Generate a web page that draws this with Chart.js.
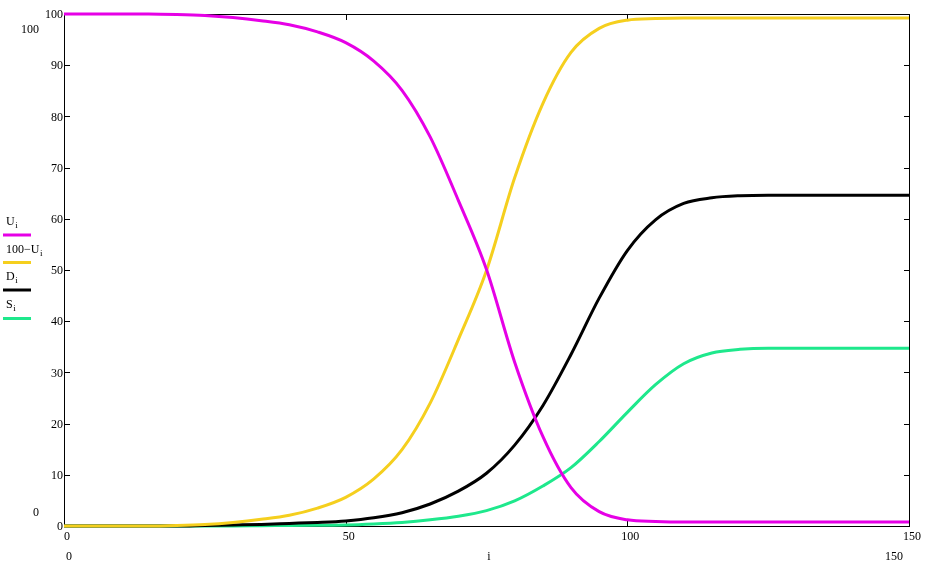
<!DOCTYPE html>
<html>
<head>
<meta charset="utf-8">
<script src="https://cdn.jsdelivr.net/npm/chart.js@4.4.1/dist/chart.umd.min.js"></script>
<style>
html,body{margin:0;padding:0;background:#fff;}
#wrap{position:relative;width:929px;height:572px;}
</style>
</head>
<body>
<div id="wrap"><canvas id="c" width="929" height="572"></canvas></div>
<script>
// Data
const iValues = [0,5,10,15,20,25,30,35,40,45,50,55,60,65,70,75,80,85,90,95,100,105,110,115,120,125,130,135,140,145,150];
const U = [100,100,100,100,99.9,99.7,99.3,98.7,97.9,96.5,94.4,90.8,85.1,76.0,63.6,50.1,32.0,17.5,7.5,2.8,1.2,0.9,0.8,0.8,0.8,0.8,0.8,0.8,0.8,0.8,0.8];
const hundredMinusU = [0,0,0,0,0.1,0.3,0.7,1.3,2.1,3.5,5.6,9.2,14.9,24.0,36.4,49.9,68.0,82.5,92.5,97.2,98.8,99.1,99.2,99.2,99.2,99.2,99.2,99.2,99.2,99.2,99.2];
const D = [0,0,0,0,0,0.1,0.2,0.3,0.5,0.7,1.0,1.6,2.6,4.3,6.8,10.3,15.8,23.5,33.5,44.5,53.8,59.8,63.0,64.1,64.5,64.6,64.6,64.6,64.6,64.6,64.6];
const S = [0,0,0,0,0,0,0,0.05,0.1,0.15,0.2,0.4,0.7,1.2,1.9,3.0,4.9,7.8,11.4,16.5,22.2,27.6,31.7,33.8,34.5,34.7,34.7,34.7,34.7,34.7,34.7];
const xTicks = [0,50,100,150];
const yTicks = [0,10,20,30,40,50,60,70,80,90,100];
const seriesNames = [["U","i"],["100\u2212U","i"],["D","i"],["S","i"]];
const colors = ["#e600e6","#f5cf1e","#000000","#1ee88c"];

const toPts = arr => arr.map((v,k)=>({x:iValues[k], y:v}));
const seriesData = [U, hundredMinusU, D, S];

const FONT = '12px "Liberation Serif", "Times New Roman", serif';
const SUBFONT = '9px "Liberation Serif", "Times New Roman", serif';

const framePlugin = {
  id:'frame',
  beforeDatasetsDraw(chart){
    const ctx = chart.ctx, a = chart.chartArea;
    const xs = chart.scales.x, ys = chart.scales.y;
    ctx.save();
    ctx.strokeStyle = '#000';
    ctx.lineWidth = 1;
    ctx.beginPath();
    ctx.rect(a.left+0.5, a.top+0.5, a.right-a.left, a.bottom-a.top);
    ctx.stroke();
    yTicks.forEach(v=>{
      const y = Math.round(ys.getPixelForValue(v))+0.5;
      ctx.beginPath();
      ctx.moveTo(a.left, y); ctx.lineTo(a.left+6, y);
      ctx.moveTo(a.right+1, y); ctx.lineTo(a.right-5, y);
      ctx.stroke();
    });
    xTicks.forEach(v=>{
      const x = Math.round(xs.getPixelForValue(v))+0.5;
      ctx.beginPath();
      ctx.moveTo(x, a.bottom); ctx.lineTo(x, a.bottom-6);
      ctx.moveTo(x, a.top); ctx.lineTo(x, a.top+6);
      ctx.stroke();
    });
    ctx.restore();
  },
  afterDraw(chart){
    const ctx = chart.ctx, a = chart.chartArea;
    const xs = chart.scales.x, ys = chart.scales.y;
    ctx.save();
    ctx.fillStyle = '#000';
    ctx.font = FONT;
    ctx.textBaseline = 'middle';
    ctx.textAlign = 'right';
    yTicks.forEach(v=>{
      ctx.fillText(String(v), a.left-1, ys.getPixelForValue(v)+1);
    });
    ctx.textAlign = 'center';
    xTicks.forEach(v=>{
      ctx.fillText(String(v), xs.getPixelForValue(v)+3, 537);
    });
    ctx.fillText(String(ys.max), 30, 30);
    ctx.fillText(String(ys.min), 36, 513);
    ctx.fillText(String(xs.min), 69, 557);
    ctx.fillText(String(xs.max), 894, 557);
    ctx.fillText('i', 489, 557);
    const textY = [222, 250, 277, 305];
    const lineY = [235, 262.5, 290, 318.5];
    seriesNames.forEach((nm,k)=>{
      ctx.font = FONT;
      ctx.textAlign = 'left';
      ctx.textBaseline = 'middle';
      ctx.fillStyle = '#000';
      ctx.fillText(nm[0], 6, textY[k]);
      const w = ctx.measureText(nm[0]).width;
      ctx.font = SUBFONT;
      ctx.fillText(nm[1], 6 + w + 0.5, textY[k] + 4);
      ctx.strokeStyle = colors[k];
      ctx.lineWidth = 3;
      ctx.beginPath();
      ctx.moveTo(3, lineY[k]); ctx.lineTo(31, lineY[k]);
      ctx.stroke();
    });
    ctx.restore();
  }
};

new Chart(document.getElementById('c'), {
  type:'line',
  data:{
    datasets: seriesData.map((arr,k)=>({
      label: seriesNames[k].join(''),
      data: toPts(arr),
      borderColor: colors[k],
      backgroundColor: colors[k],
      borderWidth: 3,
      pointRadius: 0,
      cubicInterpolationMode: 'monotone',
      fill: false,
      clip: false
    }))
  },
  options:{
    responsive:false,
    animation:false,
    devicePixelRatio:1,
    layout:{padding:{left:64, right:20, top:14, bottom:46}},
    plugins:{legend:{display:false}, tooltip:{enabled:false}},
    scales:{
      x:{type:'linear', min:0, max:150, display:false},
      y:{type:'linear', min:0, max:100, display:false}
    }
  },
  plugins:[framePlugin]
});
</script>
</body>
</html>
